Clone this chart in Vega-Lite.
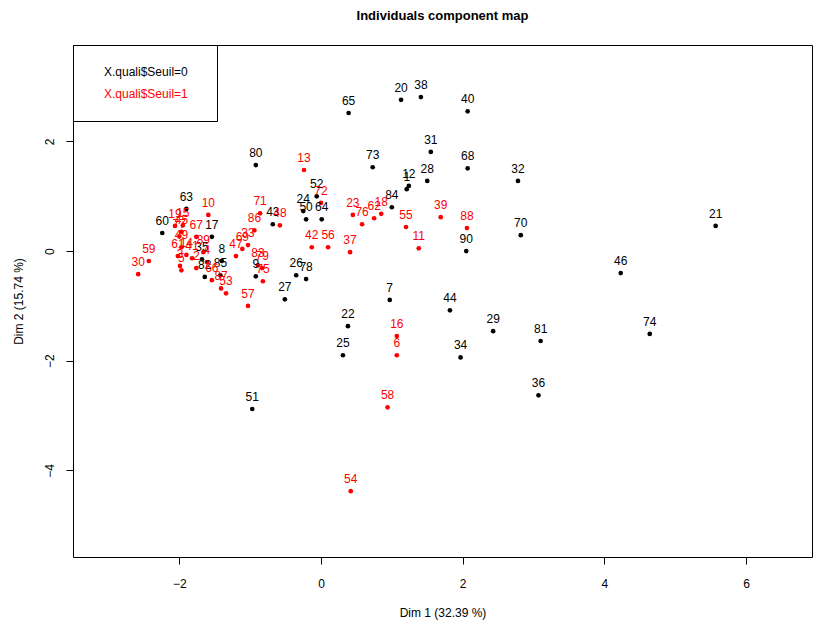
{
  "$schema": "https://vega.github.io/schema/vega-lite/v6.json",
  "width": 739,
  "height": 512,
  "autosize": "none",
  "padding": {"left": 73, "top": 45, "right": 1, "bottom": 66},
  "background": "white",
  "title": {"text": "Individuals component map", "anchor": "middle", "offset": 22, "fontSize": 13, "font": "Liberation Sans", "fontWeight": "bold", "color": "black"},
  "config": {
    "font": "Liberation Sans",
    "view": {"stroke": "black", "strokeWidth": 1},
    "axis": {"grid": false, "domain": false, "tickColor": "black", "tickSize": 7, "labelColor": "black", "labelFontSize": 12, "titleFontSize": 12, "titleFontWeight": "normal", "titleColor": "black", "labelFont": "Liberation Sans", "titleFont": "Liberation Sans"}
  },
  "datasets": {
    "pts": [
      {"id": "20", "x": 1.13, "y": 2.76, "g": "X.quali$Seuil=0"},
      {"id": "38", "x": 1.41, "y": 2.81, "g": "X.quali$Seuil=0"},
      {"id": "40", "x": 2.07, "y": 2.55, "g": "X.quali$Seuil=0"},
      {"id": "65", "x": 0.39, "y": 2.52, "g": "X.quali$Seuil=0"},
      {"id": "31", "x": 1.55, "y": 1.81, "g": "X.quali$Seuil=0"},
      {"id": "80", "x": -0.92, "y": 1.57, "g": "X.quali$Seuil=0"},
      {"id": "73", "x": 0.73, "y": 1.53, "g": "X.quali$Seuil=0"},
      {"id": "68", "x": 2.07, "y": 1.51, "g": "X.quali$Seuil=0"},
      {"id": "32", "x": 2.78, "y": 1.28, "g": "X.quali$Seuil=0"},
      {"id": "1", "x": 1.21, "y": 1.13, "g": "X.quali$Seuil=0"},
      {"id": "12", "x": 1.24, "y": 1.19, "g": "X.quali$Seuil=0"},
      {"id": "28", "x": 1.50, "y": 1.28, "g": "X.quali$Seuil=0"},
      {"id": "84", "x": 1.00, "y": 0.80, "g": "X.quali$Seuil=0"},
      {"id": "52", "x": -0.06, "y": 1.00, "g": "X.quali$Seuil=0"},
      {"id": "63", "x": -1.90, "y": 0.77, "g": "X.quali$Seuil=0"},
      {"id": "24", "x": -0.25, "y": 0.73, "g": "X.quali$Seuil=0"},
      {"id": "50", "x": -0.21, "y": 0.58, "g": "X.quali$Seuil=0"},
      {"id": "64", "x": 0.01, "y": 0.58, "g": "X.quali$Seuil=0"},
      {"id": "60", "x": -2.24, "y": 0.33, "g": "X.quali$Seuil=0"},
      {"id": "17", "x": -1.54, "y": 0.26, "g": "X.quali$Seuil=0"},
      {"id": "43", "x": -0.68, "y": 0.49, "g": "X.quali$Seuil=0"},
      {"id": "70", "x": 2.82, "y": 0.29, "g": "X.quali$Seuil=0"},
      {"id": "21", "x": 5.57, "y": 0.46, "g": "X.quali$Seuil=0"},
      {"id": "90", "x": 2.05, "y": 0.00, "g": "X.quali$Seuil=0"},
      {"id": "35", "x": -1.68, "y": -0.15, "g": "X.quali$Seuil=0"},
      {"id": "8", "x": -1.40, "y": -0.18, "g": "X.quali$Seuil=0"},
      {"id": "82", "x": -1.64, "y": -0.47, "g": "X.quali$Seuil=0"},
      {"id": "85", "x": -1.42, "y": -0.44, "g": "X.quali$Seuil=0"},
      {"id": "9", "x": -0.92, "y": -0.46, "g": "X.quali$Seuil=0"},
      {"id": "26", "x": -0.35, "y": -0.44, "g": "X.quali$Seuil=0"},
      {"id": "78", "x": -0.21, "y": -0.51, "g": "X.quali$Seuil=0"},
      {"id": "27", "x": -0.51, "y": -0.88, "g": "X.quali$Seuil=0"},
      {"id": "7", "x": 0.97, "y": -0.89, "g": "X.quali$Seuil=0"},
      {"id": "44", "x": 1.82, "y": -1.08, "g": "X.quali$Seuil=0"},
      {"id": "22", "x": 0.38, "y": -1.37, "g": "X.quali$Seuil=0"},
      {"id": "29", "x": 2.43, "y": -1.46, "g": "X.quali$Seuil=0"},
      {"id": "81", "x": 3.10, "y": -1.64, "g": "X.quali$Seuil=0"},
      {"id": "74", "x": 4.64, "y": -1.51, "g": "X.quali$Seuil=0"},
      {"id": "46", "x": 4.23, "y": -0.40, "g": "X.quali$Seuil=0"},
      {"id": "25", "x": 0.31, "y": -1.90, "g": "X.quali$Seuil=0"},
      {"id": "34", "x": 1.97, "y": -1.94, "g": "X.quali$Seuil=0"},
      {"id": "36", "x": 3.07, "y": -2.63, "g": "X.quali$Seuil=0"},
      {"id": "51", "x": -0.97, "y": -2.88, "g": "X.quali$Seuil=0"},
      {"id": "13", "x": -0.24, "y": 1.48, "g": "X.quali$Seuil=1"},
      {"id": "72", "x": 0.00, "y": 0.88, "g": "X.quali$Seuil=1"},
      {"id": "10", "x": -1.59, "y": 0.66, "g": "X.quali$Seuil=1"},
      {"id": "71", "x": -0.86, "y": 0.69, "g": "X.quali$Seuil=1"},
      {"id": "86", "x": -0.94, "y": 0.38, "g": "X.quali$Seuil=1"},
      {"id": "48", "x": -0.58, "y": 0.47, "g": "X.quali$Seuil=1"},
      {"id": "23", "x": 0.45, "y": 0.66, "g": "X.quali$Seuil=1"},
      {"id": "76", "x": 0.58, "y": 0.49, "g": "X.quali$Seuil=1"},
      {"id": "62", "x": 0.75, "y": 0.60, "g": "X.quali$Seuil=1"},
      {"id": "18", "x": 0.85, "y": 0.68, "g": "X.quali$Seuil=1"},
      {"id": "39", "x": 1.69, "y": 0.62, "g": "X.quali$Seuil=1"},
      {"id": "88", "x": 2.06, "y": 0.42, "g": "X.quali$Seuil=1"},
      {"id": "55", "x": 1.20, "y": 0.44, "g": "X.quali$Seuil=1"},
      {"id": "11", "x": 1.38, "y": 0.05, "g": "X.quali$Seuil=1"},
      {"id": "42", "x": -0.13, "y": 0.07, "g": "X.quali$Seuil=1"},
      {"id": "56", "x": 0.10, "y": 0.07, "g": "X.quali$Seuil=1"},
      {"id": "37", "x": 0.41, "y": -0.02, "g": "X.quali$Seuil=1"},
      {"id": "33", "x": -1.03, "y": 0.11, "g": "X.quali$Seuil=1"},
      {"id": "69", "x": -1.11, "y": 0.04, "g": "X.quali$Seuil=1"},
      {"id": "47", "x": -1.20, "y": -0.09, "g": "X.quali$Seuil=1"},
      {"id": "83", "x": -0.89, "y": -0.26, "g": "X.quali$Seuil=1"},
      {"id": "79", "x": -0.83, "y": -0.31, "g": "X.quali$Seuil=1"},
      {"id": "75", "x": -0.82, "y": -0.55, "g": "X.quali$Seuil=1"},
      {"id": "57", "x": -1.03, "y": -1.00, "g": "X.quali$Seuil=1"},
      {"id": "16", "x": 1.07, "y": -1.55, "g": "X.quali$Seuil=1"},
      {"id": "6", "x": 1.07, "y": -1.90, "g": "X.quali$Seuil=1"},
      {"id": "58", "x": 0.94, "y": -2.85, "g": "X.quali$Seuil=1"},
      {"id": "54", "x": 0.42, "y": -4.38, "g": "X.quali$Seuil=1"},
      {"id": "30", "x": -2.58, "y": -0.42, "g": "X.quali$Seuil=1"},
      {"id": "59", "x": -2.43, "y": -0.18, "g": "X.quali$Seuil=1"},
      {"id": "19", "x": -2.06, "y": 0.46, "g": "X.quali$Seuil=1"},
      {"id": "15", "x": -1.95, "y": 0.47, "g": "X.quali$Seuil=1"},
      {"id": "45", "x": -1.97, "y": 0.35, "g": "X.quali$Seuil=1"},
      {"id": "77", "x": -2.00, "y": 0.27, "g": "X.quali$Seuil=1"},
      {"id": "67", "x": -1.76, "y": 0.26, "g": "X.quali$Seuil=1"},
      {"id": "49", "x": -1.97, "y": 0.07, "g": "X.quali$Seuil=1"},
      {"id": "89", "x": -1.66, "y": -0.02, "g": "X.quali$Seuil=1"},
      {"id": "61", "x": -2.02, "y": -0.09, "g": "X.quali$Seuil=1"},
      {"id": "14", "x": -1.90, "y": -0.07, "g": "X.quali$Seuil=1"},
      {"id": "41", "x": -1.82, "y": -0.13, "g": "X.quali$Seuil=1"},
      {"id": "4", "x": -1.61, "y": -0.20, "g": "X.quali$Seuil=1"},
      {"id": "3", "x": -1.99, "y": -0.27, "g": "X.quali$Seuil=1"},
      {"id": "5", "x": -1.97, "y": -0.35, "g": "X.quali$Seuil=1"},
      {"id": "2", "x": -1.76, "y": -0.31, "g": "X.quali$Seuil=1"},
      {"id": "66", "x": -1.54, "y": -0.53, "g": "X.quali$Seuil=1"},
      {"id": "87", "x": -1.41, "y": -0.68, "g": "X.quali$Seuil=1"},
      {"id": "53", "x": -1.34, "y": -0.77, "g": "X.quali$Seuil=1"}
    ]
  },
  "layer": [
    {
      "mark": {"type": "rule", "strokeDash": [4, 4], "color": "black", "strokeWidth": 1},
      "encoding": {"x": {"datum": 0, "type": "quantitative", "scale": {"domain": [-3.5, 6.93], "nice": false, "zero": false}}}
    },
    {
      "mark": {"type": "rule", "strokeDash": [4, 4], "color": "black", "strokeWidth": 1},
      "encoding": {"y": {"datum": 0, "type": "quantitative", "scale": {"domain": [-5.58, 3.76], "nice": false, "zero": false}}}
    },
    {
      "data": {"name": "pts"},
      "mark": {"type": "circle", "size": 22, "opacity": 1},
      "encoding": {
        "x": {"field": "x", "type": "quantitative", "scale": {"domain": [-3.5, 6.93], "nice": false, "zero": false},
              "axis": {"values": [-2, 0, 2, 4, 6], "format": "d", "title": "Dim 1 (32.39 %)", "labelPadding": 14, "titlePadding": 18}},
        "y": {"field": "y", "type": "quantitative", "scale": {"domain": [-5.58, 3.76], "nice": false, "zero": false},
              "axis": {"values": [-4, -2, 0, 2], "format": "d", "title": "Dim 2 (15.74 %)", "labelAngle": 270, "labelAlign": "center", "labelBaseline": "bottom", "labelPadding": 10, "titlePadding": 18}},
        "color": {"field": "g", "type": "nominal",
                  "scale": {"domain": ["X.quali$Seuil=0", "X.quali$Seuil=1"], "range": ["#000000", "#FF0000"]},
                  "legend": {"title": "\u00a0\u00a0", "titleOrient": "right", "titlePadding": 8, "titleFontSize": 12,
                             "orient": "none", "legendX": 0, "legendY": 0,
                             "strokeColor": "black", "fillColor": "white", "padding": 21, "rowPadding": 10,
                             "symbolSize": 0, "symbolOpacity": 0, "symbolStrokeWidth": 0, "labelOffset": -2,
                             "labelFontSize": 12, "labelFont": "Liberation Sans", "labelLimit": 300,
                             "encode": {"labels": {"update": {
                               "fill": {"signal": "datum.value == 'X.quali$Seuil=1' ? '#FF0000' : '#000000'"}}}}}}
      }
    },
    {
      "data": {"name": "pts"},
      "mark": {"type": "text", "fontSize": 12, "font": "Liberation Sans", "dy": -12, "baseline": "middle", "align": "center"},
      "encoding": {
        "x": {"field": "x", "type": "quantitative"},
        "y": {"field": "y", "type": "quantitative"},
        "text": {"field": "id"},
        "color": {"field": "g", "type": "nominal", "legend": null}
      }
    }
  ]
}
